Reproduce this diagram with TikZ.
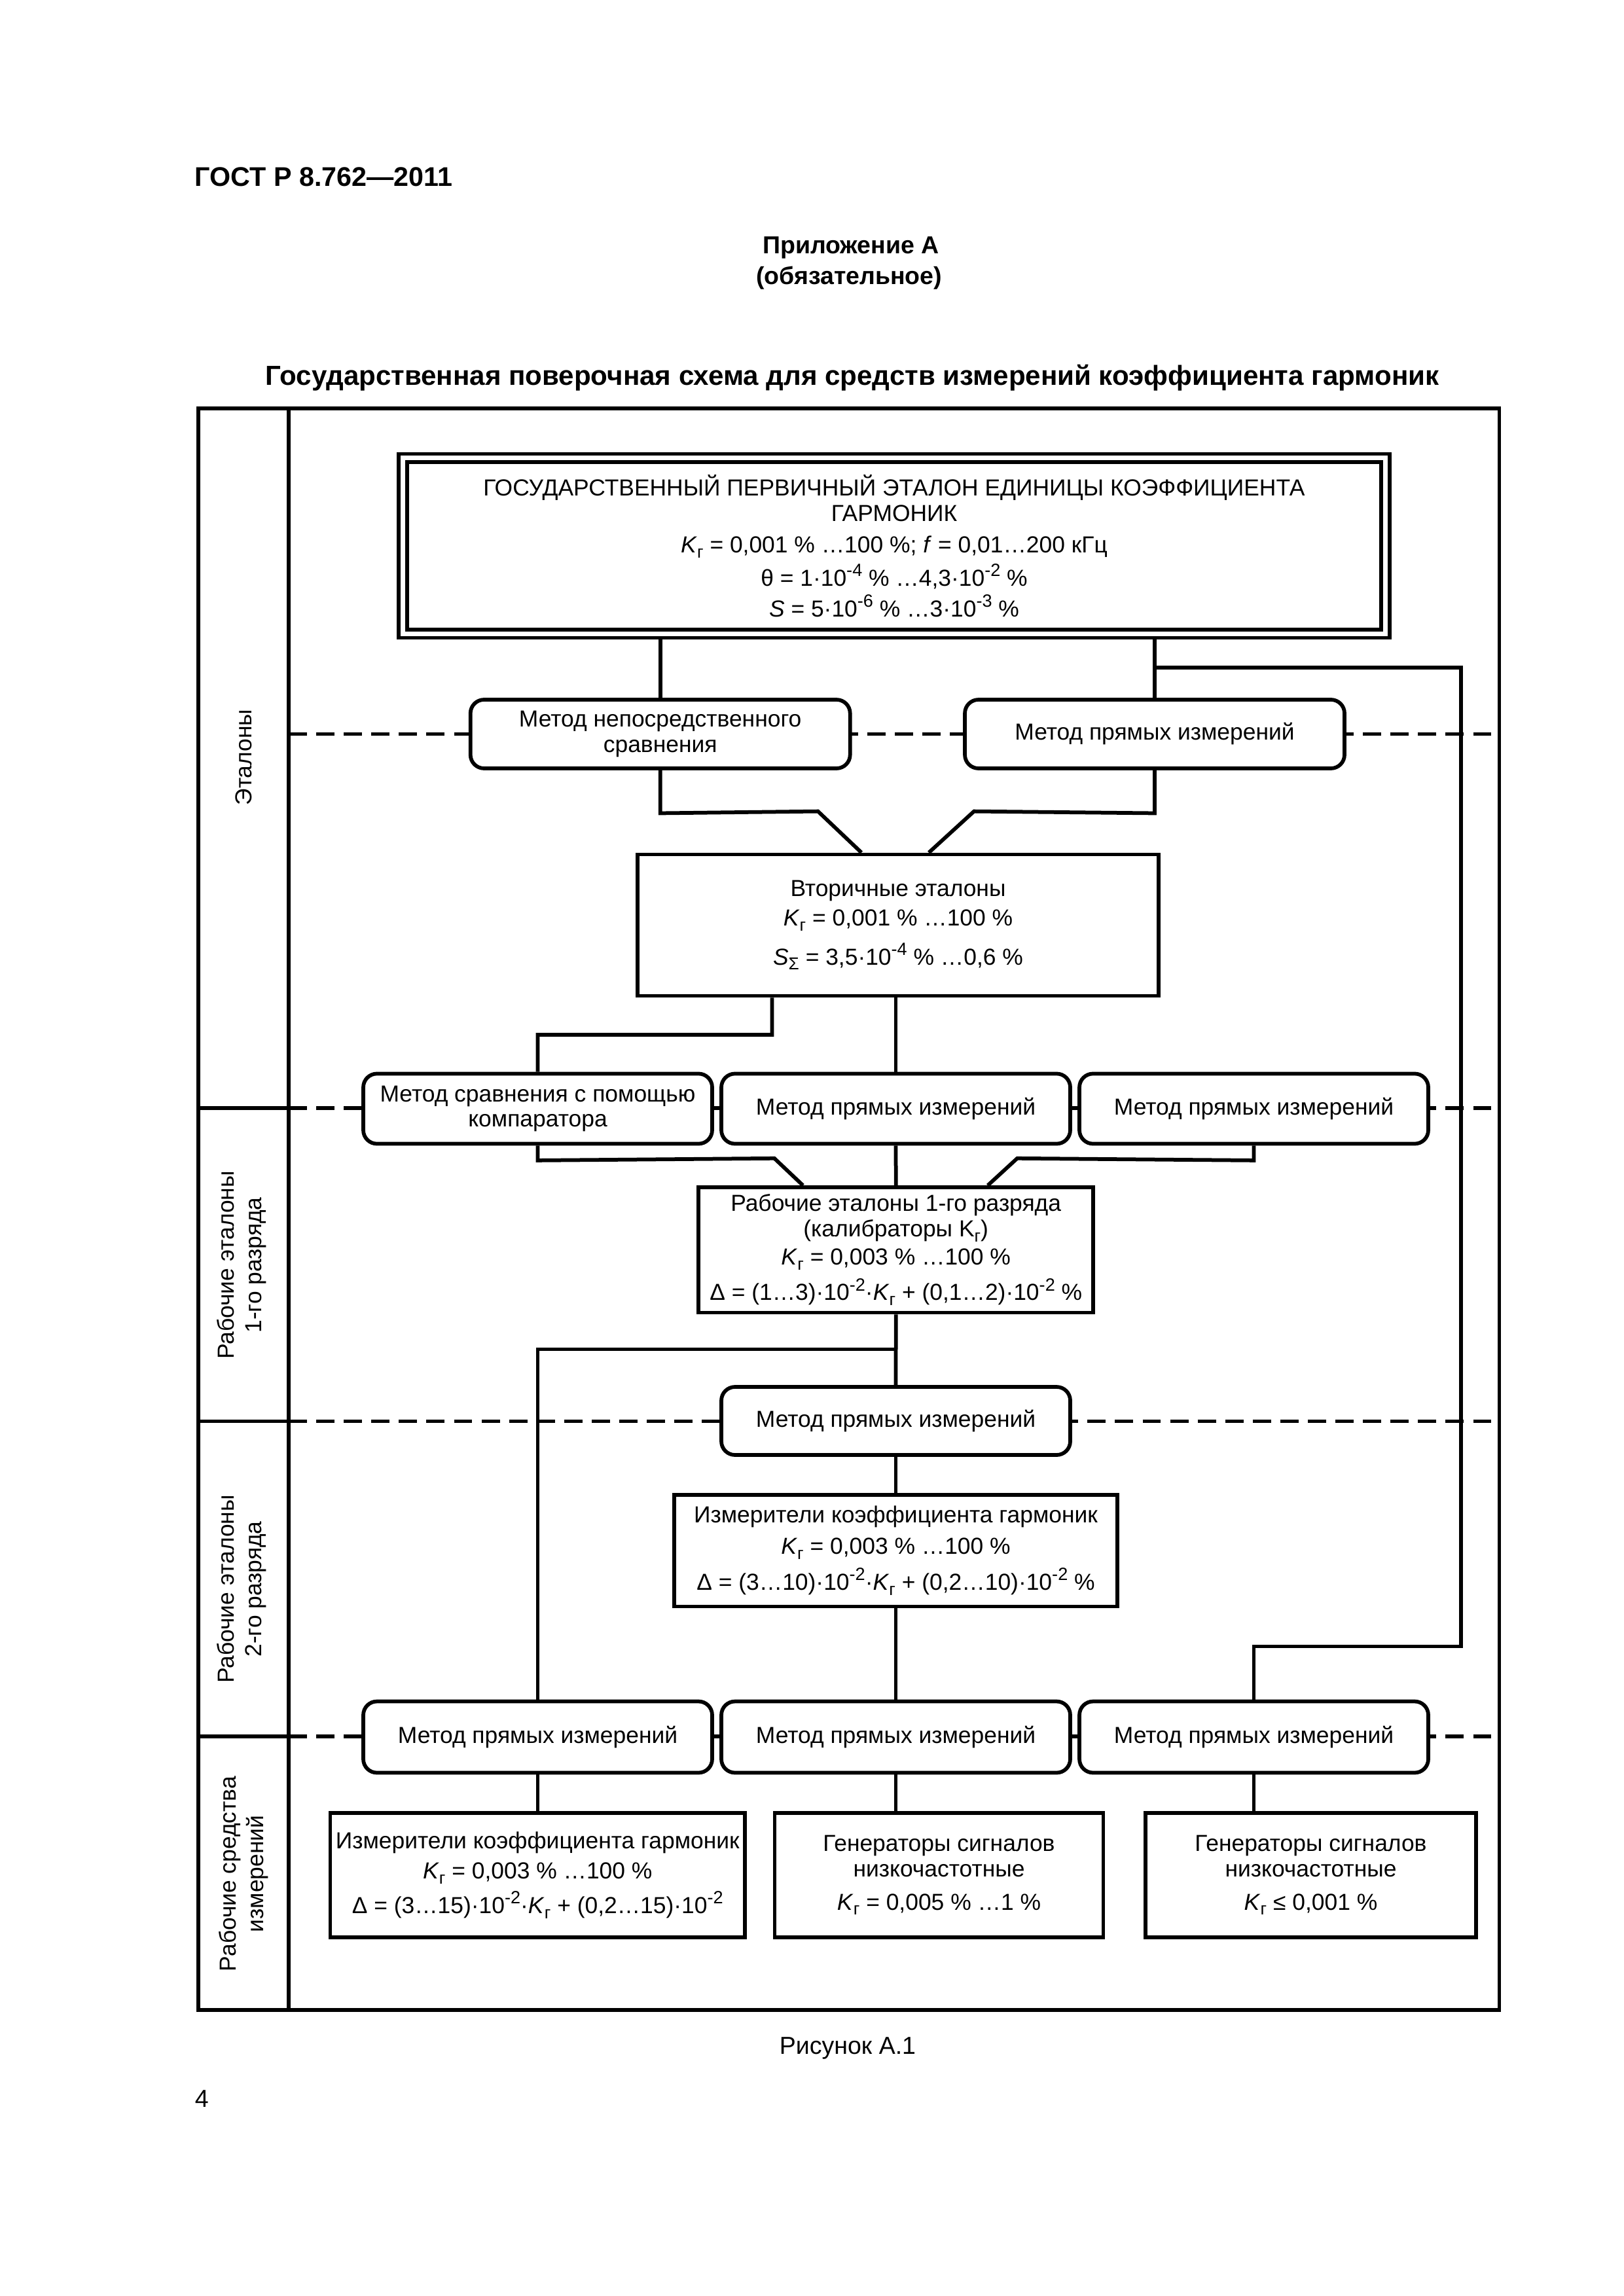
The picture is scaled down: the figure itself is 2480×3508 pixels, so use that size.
\documentclass[tikz,border=0pt]{standalone}
\usepackage{fontspec}
\setmainfont{Liberation Sans}
\usetikzlibrary{calc}
\pgfdeclarelayer{bg}
\pgfsetlayers{bg,main}
\newcommand\myfs{\fontsize{8.5pt}{9.3pt}\selectfont}
\newcommand\mysub[1]{\raisebox{-0.22em}{\fontsize{6.3pt}{6.3pt}\selectfont #1}}
\newcommand\Kg{\textit{K}\mysub{г}}
\newcommand\Ku{K\mysub{г}}
\newcommand\ee[1]{10\raisebox{0.42em}{\fontsize{6.5pt}{6.5pt}\selectfont #1}}
\tikzset{
  ln/.style={line width=1.38pt},
  dsh/.style={line width=1.3pt, dash pattern=on 6.7pt off 3.4pt},
  mbox/.style={draw, ln, rounded corners=5pt, fill=white, align=center, inner sep=0pt, font=\myfs},
  dbox/.style={draw, ln, fill=white, align=center, inner sep=0pt, font=\myfs},
  mA/.style={mbox, minimum width=139.2pt, minimum height=25.2pt},
  mB/.style={mbox, minimum width=127.92pt, minimum height=25.7pt},
  lab/.style={rotate=90, align=center, font=\fontsize{8.5pt}{10pt}\selectfont},
}
\begin{document}
\begin{tikzpicture}[x=0.24pt,y=-0.24pt]
\useasboundingbox (0,0) rectangle (2480,3508);
% header texts
\node[anchor=base west, inner sep=0pt, font=\fontsize{9.9pt}{11pt}\selectfont\bfseries] (gost) at (297,285) {ГОСТ Р 8.762—2011};
\node[anchor=base, inner sep=0pt, font=\fontsize{9pt}{11pt}\selectfont\bfseries] (app) at (1300,388) {Приложение А};
\node[anchor=base, inner sep=0pt, font=\fontsize{9pt}{11pt}\selectfont\bfseries] (oblig) at (1297,435) {(обязательное)};
\node[anchor=base, inner sep=0pt, font=\fontsize{10.1pt}{12pt}\selectfont\bfseries] (title) at (1302,588.6) {Государственная поверочная схема для средств измерений коэффициента гармоник};
% frame
\draw[ln] (303,624) rectangle (2290.5,3071);
\draw[ln] (441,624) -- (441,3071);
\draw[ln] (303,1693) -- (441,1693);
\draw[ln] (303,2171.5) -- (441,2171.5);
\draw[ln] (303,2653) -- (441,2653);
% lane labels
\node[lab] (l1) at (372,1157) {Эталоны};
\node[lab] (l2) at (369,1933) {Рабочие эталоны\\1-го разряда};
\node[lab] (l3) at (369,2428) {Рабочие эталоны\\2-го разряда};
\node[lab] (l4) at (372,2863) {Рабочие средства\\измерений};
% dashed level lines
\begin{pgfonlayer}{bg}
\draw[dsh] (441,1121.5) -- (2290.5,1121.5);
\draw[dsh] (441,1693) -- (2290.5,1693);
\draw[dsh] (441,2171.5) -- (2290.5,2171.5);
\draw[dsh] (441,2653) -- (2290.5,2653);
\end{pgfonlayer}
% primary standard
\node[dbox, double, double distance=1.68pt, minimum width=360.24pt, minimum height=64.42pt] (prim) at (1366,834)
 {ГОСУДАРСТВЕННЫЙ ПЕРВИЧНЫЙ ЭТАЛОН ЕДИНИЦЫ КОЭФФИЦИЕНТА\\ГАРМОНИК\\[2.2pt]\Kg{} = 0,001 \% …100 \%; \textit{f} = 0,01…200 кГц\\[1.3pt]θ = 1·\ee{-4} \% …4,3·\ee{-2} \%\\[1.9pt]\textit{S} = 5·\ee{-6} \% …3·\ee{-3} \%};
% row 1 methods
\node[mA] (A) at (1008.7,1121.5) {Метод непосредственного\\сравнения};
\node[mA] (B) at (1764,1121.5) {Метод прямых измерений};
% secondary standards
\node[dbox, minimum width=191.04pt, minimum height=51.84pt] (sec) at (1372,1413.5)
 {Вторичные эталоны\\[1.6pt]\Kg{} = 0,001 \% …100 \%\\[3.3pt]\textit{S}\mysub{Σ} = 3,5·\ee{-4} \% …0,6 \%};
% row 2 methods
\node[mB] (C) at (821.5,1694) {Метод сравнения с помощью\\компаратора};
\node[mB] (D) at (1368.5,1694) {Метод прямых измерений};
\node[mB] (I) at (1915.5,1694) {Метод прямых измерений};
% working standards 1
\node[dbox, minimum width=144.72pt, minimum height=45.96pt] (E) at (1368.7,1909.75)
 {Рабочие эталоны 1-го разряда\\(калибраторы \Ku)\\[1.1pt]\Kg{} = 0,003 \% …100 \%\\[2pt]Δ = (1…3)·\ee{-2}·\Kg{} + (0,1…2)·\ee{-2} \%};
% row 3 method
\node[mbox, minimum width=127.92pt, minimum height=24.96pt] (F) at (1368.5,2171) {Метод прямых измерений};
% working standards 2
\node[dbox, minimum width=162.48pt, minimum height=40.92pt] (G) at (1368.5,2369.25)
 {Измерители коэффициента гармоник\\[2.1pt]\Kg{} = 0,003 \% …100 \%\\[2.3pt]Δ = (3…10)·\ee{-2}·\Kg{} + (0,2…10)·\ee{-2} \%};
% row 4 methods
\node[mB, minimum height=26.16pt] (H) at (821.5,2654) {Метод прямых измерений};
\node[mB, minimum height=26.16pt] (J) at (1368.5,2654) {Метод прямых измерений};
\node[mB, minimum height=26.16pt] (K) at (1915.5,2654) {Метод прямых измерений};
% working instruments
\node[dbox, minimum width=152.04pt, minimum height=45.6pt] (L) at (821.25,2865)
 {Измерители коэффициента гармоник\\[1.7pt]\Kg{} = 0,003 \% …100 \%\\[1.7pt]Δ = (3…15)·\ee{-2}·\Kg{} + (0,2…15)·\ee{-2}};
\node[dbox, minimum width=120.48pt, minimum height=45.6pt] (M) at (1434.5,2865)
 {Генераторы сигналов\\низкочастотные\\[2.9pt]\Kg{} = 0,005 \% …1 \%};
\node[dbox, minimum width=121.2pt, minimum height=45.6pt] (N) at (2002.5,2865)
 {Генераторы сигналов\\низкочастотные\\[2.9pt]\Kg{} ≤ 0,001 \%};
% caption
\node[inner sep=0pt, font=\fontsize{9pt}{10pt}\selectfont] (cap) at (1295,3129.6) {Рисунок А.1};
\node[anchor=west, inner sep=0pt, font=\fontsize{9pt}{10pt}\selectfont] (pg) at (297,3207) {4};
% connectors
\begin{pgfonlayer}{bg}
\draw[ln] (prim.south -| A.north) -- (A.north);
\draw[ln] (prim.south -| B.north) -- (B.north);
\coordinate (j1) at (1764,1020);
\coordinate (r1) at (2231.6,1020);
\coordinate (r2) at (2231.6,2515.5);
\draw[ln] (j1) -- (r1) -- (r2) -- (r2 -| K.north) -- (K.north);
\draw[ln] (A.south) -- ++(0,65.6) -- (1249.6,1239.6) -- ($(sec.north)+(-56,0)$);
\draw[ln] (B.south) -- ++(0,65.6) -- (1488,1239.6) -- ($(sec.north)+(47,0)$);
\draw[ln] ($(sec.south)+(-192.5,0)$) -- (1179.5,1581) -- (821.5,1581) -- (C.north);
\draw[ln] (sec.south -| D.north) -- (D.north);
\draw[ln] (C.south) -- ++(0,22.5) -- (1183,1769.8) -- ($(E.north)+(-142,0)$);
\draw[ln] (D.south) -- (E.north);
\draw[ln] (I.south) -- ++(0,22.5) -- (1554,1769.8) -- ($(E.north)+(140.3,0)$);
\draw[ln] (E.south) -- (F.north);
\coordinate (e1) at (1368.5,2061.6);
\draw[ln] (e1) -- (821.5,2061.6) -- (H.north);
\draw[ln] (F.south) -- (G.north);
\draw[ln] (G.south) -- (J.north);
\draw[ln] (H.south) -- (H.south |- L.north);
\draw[ln] (J.south) -- (J.south |- M.north);
\draw[ln] (K.south) -- (K.south |- N.north);
\end{pgfonlayer}
\end{tikzpicture}
\end{document}
